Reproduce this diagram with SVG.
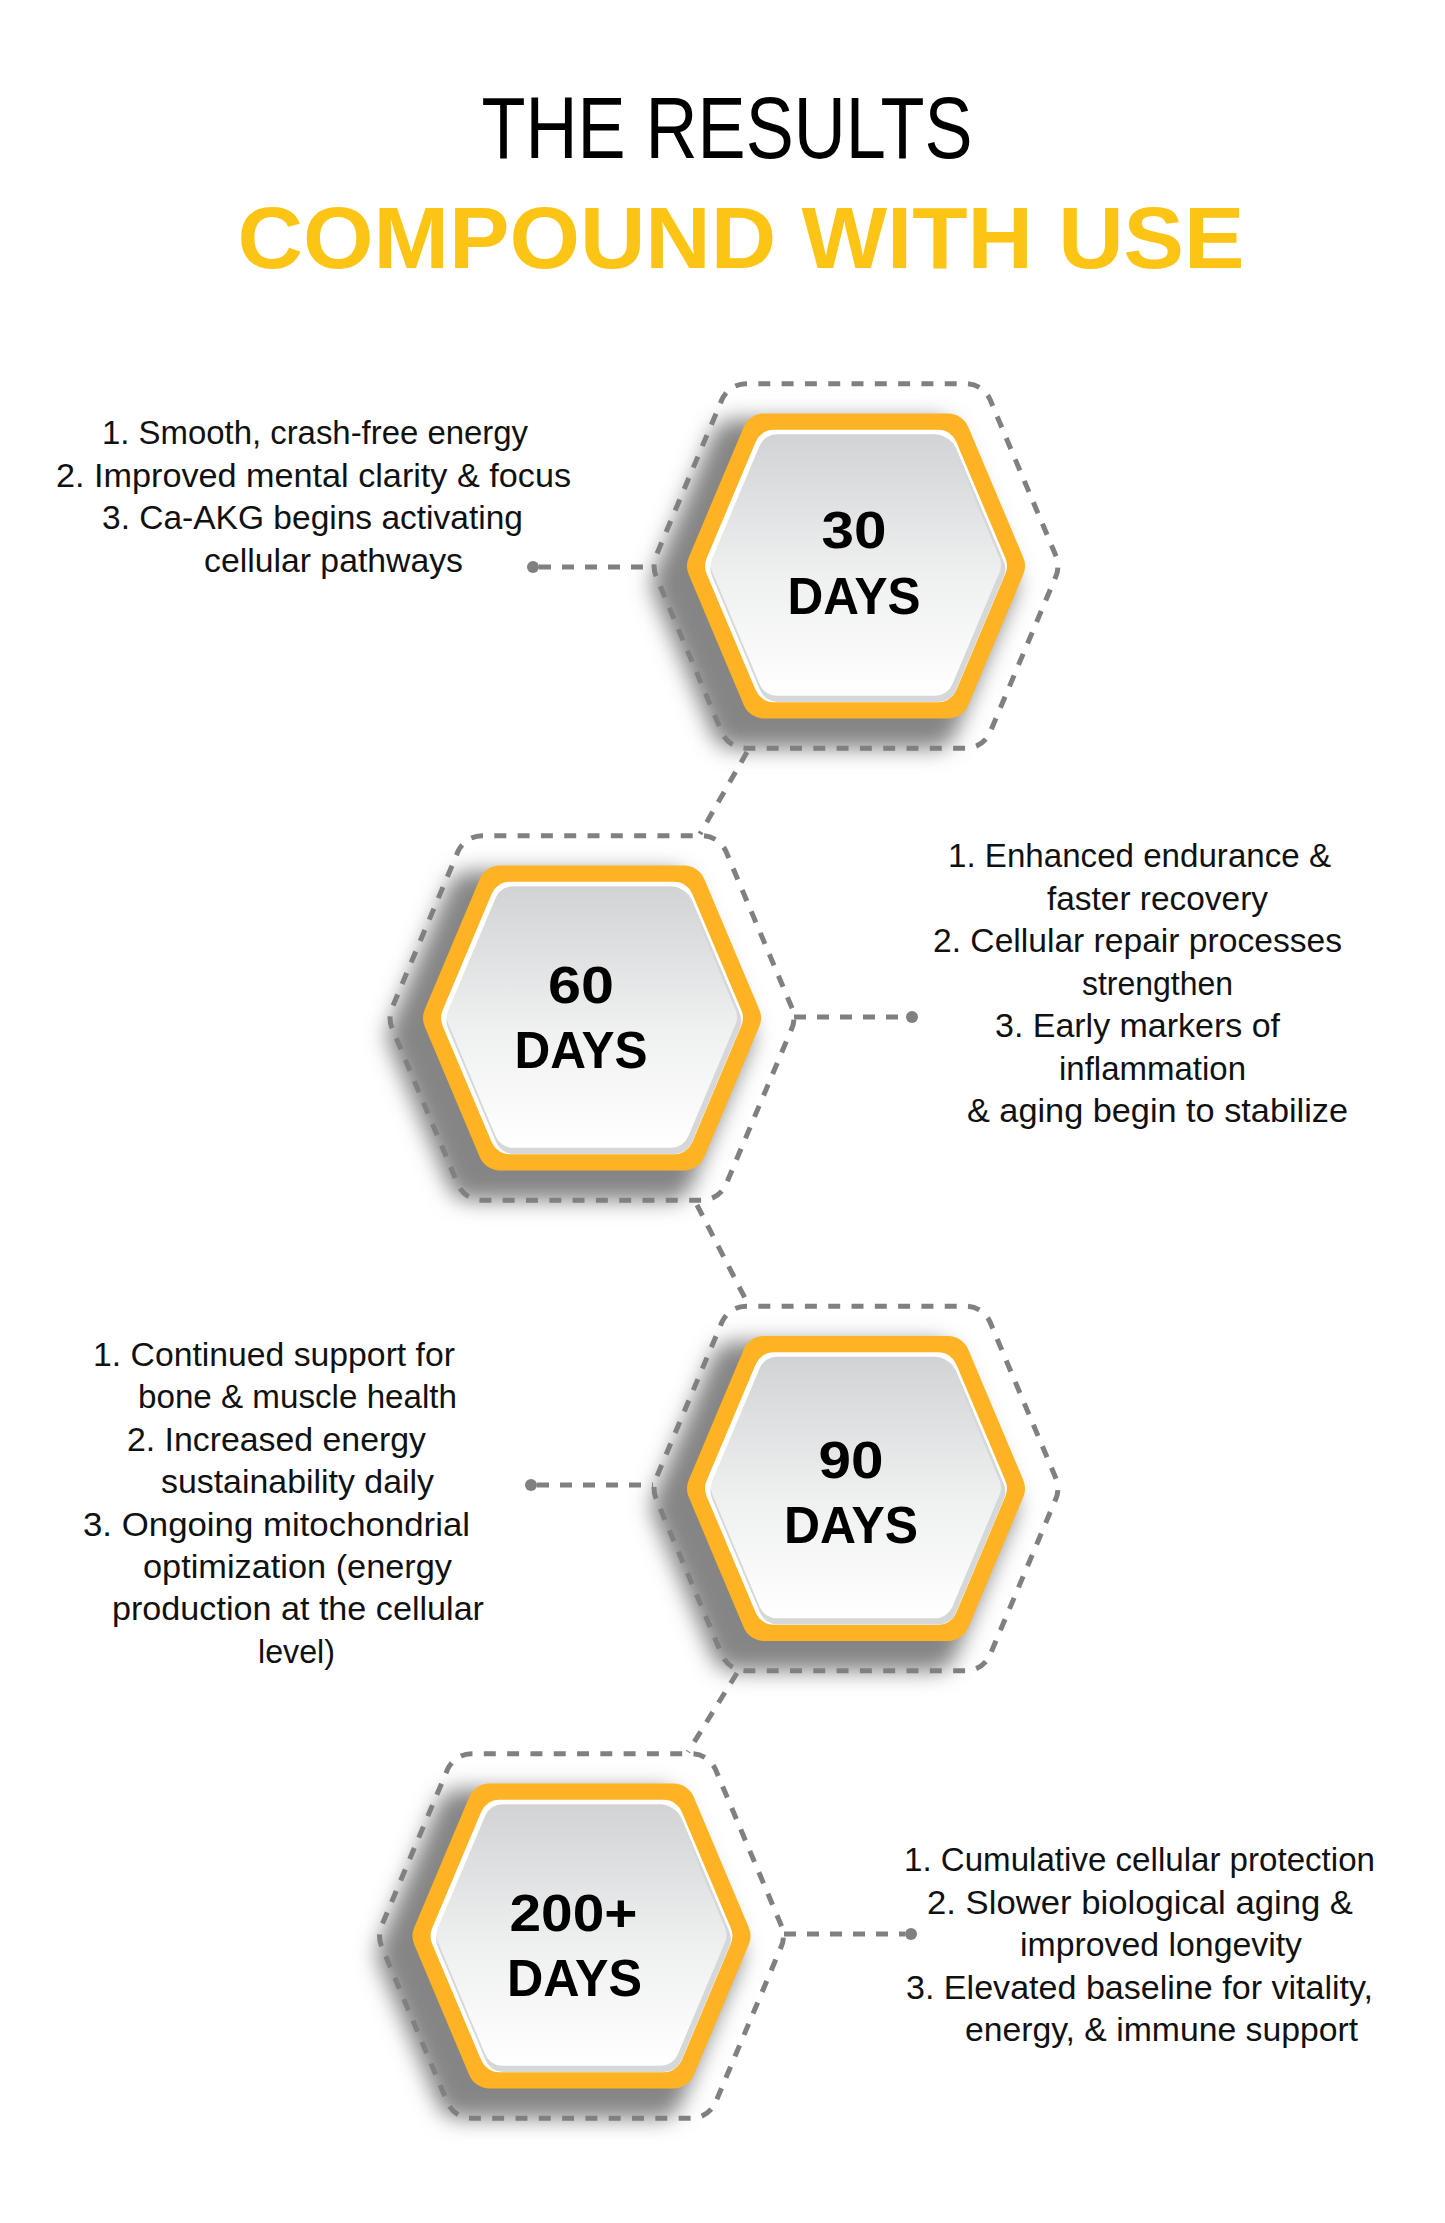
<svg xmlns="http://www.w3.org/2000/svg" xmlns:xlink="http://www.w3.org/1999/xlink" width="1445" height="2223" viewBox="0 0 1445 2223">
<style>
.t1{font-family:"Liberation Sans",Arial,sans-serif;font-size:87px;fill:#000;text-anchor:middle}
.t2{font-family:"Liberation Sans",Arial,sans-serif;font-weight:bold;font-size:88px;fill:#FCC516;text-anchor:middle}
.body{font-family:"Liberation Sans",Arial,sans-serif;font-size:34px;fill:#111;text-anchor:middle}
.num{font-family:"Liberation Sans",Arial,sans-serif;font-weight:bold;font-size:52px;fill:#000;text-anchor:middle}
.dash{fill:none;stroke:#808080;stroke-width:4.2;stroke-dasharray:10 9.5}
.orange{fill:#FDB323}
.white{fill:#FFFFFF}
.rim{fill:#D6D7D9}
.core{fill:url(#coreGrad)}
.shadow{fill:#858585;filter:url(#blur)}
.conn{fill:none;stroke:#808080;stroke-width:5;stroke-dasharray:12 11}
.dot{fill:#808080}
</style>
<defs>
<path id="hex" d="M -167.27,8.54 A22,22 0 0 1 -167.27,-8.54 L -112.27,-139.04 A22,22 0 0 1 -92,-152.5 L 92,-152.5 A22,22 0 0 1 112.27,-139.04 L 167.27,-8.54 A22,22 0 0 1 167.27,8.54 L 112.27,139.04 A22,22 0 0 1 92,152.5 L -92,152.5 A22,22 0 0 1 -112.27,139.04 Z"/>
<linearGradient id="coreGrad" x1="0" y1="0" x2="0" y2="1">
<stop offset="0" stop-color="#D2D3D5"/>
<stop offset="0.55" stop-color="#EFF0F0"/>
<stop offset="1" stop-color="#FFFFFF"/>
</linearGradient>
<filter id="blur" x="-30%" y="-30%" width="160%" height="160%">
<feGaussianBlur stdDeviation="10"/>
</filter>
</defs>
<rect x="0" y="0" width="1445" height="2223" fill="#FFFFFF"/>

<g id="title">
<text class="t1" x="727" y="158" textLength="491" lengthAdjust="spacingAndGlyphs">THE RESULTS</text>
<text class="t2" x="741" y="268" textLength="1007" lengthAdjust="spacingAndGlyphs">COMPOUND WITH USE</text>
</g>

<g id="connectors">
<line class="conn" x1="539" y1="567" x2="653" y2="567"/>
<circle class="dot" cx="533" cy="567" r="6"/>
<line class="conn" x1="794" y1="1017" x2="906" y2="1017"/>
<circle class="dot" cx="912" cy="1017" r="6"/>
<line class="conn" x1="537" y1="1485" x2="653" y2="1485"/>
<circle class="dot" cx="531" cy="1485" r="6"/>
<line class="conn" x1="784" y1="1934" x2="905" y2="1934"/>
<circle class="dot" cx="911" cy="1934" r="6"/>
<line class="conn" x1="747" y1="752" x2="700" y2="834"/>
<line class="conn" x1="697" y1="1205" x2="747" y2="1302"/>
<line class="conn" x1="737" y1="1673" x2="688" y2="1752"/>
</g>

<g id="node-30" transform="translate(856,566)">
<use xlink:href="#hex" class="shadow" transform="translate(-22,18) scale(1.08)"/>
<use xlink:href="#hex" class="dash" transform="scale(1.195)"/>
<use xlink:href="#hex" class="orange"/>
<use xlink:href="#hex" class="white" transform="scale(0.893)"/>
<use xlink:href="#hex" class="rim" transform="translate(2,3) scale(0.872)"/>
<use xlink:href="#hex" class="core" transform="translate(0,-1) scale(0.858)"/>
<text class="num" x="-2" y="-18" textLength="65" lengthAdjust="spacingAndGlyphs">30</text>
<text class="num" x="-2" y="48" textLength="133" lengthAdjust="spacingAndGlyphs">DAYS</text>
</g>

<g id="node-60" transform="translate(592,1018)">
<use xlink:href="#hex" class="shadow" transform="translate(-22,18) scale(1.08)"/>
<use xlink:href="#hex" class="dash" transform="scale(1.195)"/>
<use xlink:href="#hex" class="orange"/>
<use xlink:href="#hex" class="white" transform="scale(0.893)"/>
<use xlink:href="#hex" class="rim" transform="translate(2,3) scale(0.872)"/>
<use xlink:href="#hex" class="core" transform="translate(0,-1) scale(0.858)"/>
<text class="num" x="-11" y="-15" textLength="66" lengthAdjust="spacingAndGlyphs">60</text>
<text class="num" x="-11" y="50" textLength="133" lengthAdjust="spacingAndGlyphs">DAYS</text>
</g>

<g id="node-90" transform="translate(856,1488.5)">
<use xlink:href="#hex" class="shadow" transform="translate(-22,18) scale(1.08)"/>
<use xlink:href="#hex" class="dash" transform="scale(1.195)"/>
<use xlink:href="#hex" class="orange"/>
<use xlink:href="#hex" class="white" transform="scale(0.893)"/>
<use xlink:href="#hex" class="rim" transform="translate(2,3) scale(0.872)"/>
<use xlink:href="#hex" class="core" transform="translate(0,-1) scale(0.858)"/>
<text class="num" x="-5" y="-10.5" textLength="65" lengthAdjust="spacingAndGlyphs">90</text>
<text class="num" x="-5" y="54.5" textLength="134" lengthAdjust="spacingAndGlyphs">DAYS</text>
</g>

<g id="node-200" transform="translate(581.5,1936)">
<use xlink:href="#hex" class="shadow" transform="translate(-22,18) scale(1.08)"/>
<use xlink:href="#hex" class="dash" transform="scale(1.195)"/>
<use xlink:href="#hex" class="orange"/>
<use xlink:href="#hex" class="white" transform="scale(0.893)"/>
<use xlink:href="#hex" class="rim" transform="translate(2,3) scale(0.872)"/>
<use xlink:href="#hex" class="core" transform="translate(0,-1) scale(0.858)"/>
<text class="num" x="-8" y="-5" textLength="128" lengthAdjust="spacingAndGlyphs">200+</text>
<text class="num" x="-7" y="60" textLength="135" lengthAdjust="spacingAndGlyphs">DAYS</text>
</g>

<g id="text-30">
<text class="body" x="315" y="444" textLength="426" lengthAdjust="spacingAndGlyphs">1. Smooth, crash-free energy</text>
<text class="body" x="313.5" y="486.5" textLength="515" lengthAdjust="spacingAndGlyphs">2. Improved mental clarity &amp; focus</text>
<text class="body" x="312.5" y="529" textLength="421" lengthAdjust="spacingAndGlyphs">3. Ca-AKG begins activating</text>
<text class="body" x="333.5" y="571.5" textLength="259" lengthAdjust="spacingAndGlyphs">cellular pathways</text>
</g>

<g id="text-60">
<text class="body" x="1139.5" y="867" textLength="383" lengthAdjust="spacingAndGlyphs">1. Enhanced endurance &amp;</text>
<text class="body" x="1157.5" y="909.5" textLength="221" lengthAdjust="spacingAndGlyphs">faster recovery</text>
<text class="body" x="1137.5" y="952" textLength="409" lengthAdjust="spacingAndGlyphs">2. Cellular repair processes</text>
<text class="body" x="1157.5" y="994.5" textLength="151" lengthAdjust="spacingAndGlyphs">strengthen</text>
<text class="body" x="1137.5" y="1037" textLength="285" lengthAdjust="spacingAndGlyphs">3. Early markers of</text>
<text class="body" x="1152.5" y="1079.5" textLength="187" lengthAdjust="spacingAndGlyphs">inflammation</text>
<text class="body" x="1157.5" y="1122" textLength="381" lengthAdjust="spacingAndGlyphs">&amp; aging begin to stabilize</text>
</g>

<g id="text-90">
<text class="body" x="274" y="1366" textLength="362" lengthAdjust="spacingAndGlyphs">1. Continued support for</text>
<text class="body" x="297.5" y="1408.4" textLength="319" lengthAdjust="spacingAndGlyphs">bone &amp; muscle health</text>
<text class="body" x="276.5" y="1450.8" textLength="299" lengthAdjust="spacingAndGlyphs">2. Increased energy</text>
<text class="body" x="297.5" y="1493.2" textLength="273" lengthAdjust="spacingAndGlyphs">sustainability daily</text>
<text class="body" x="276.5" y="1535.6" textLength="387" lengthAdjust="spacingAndGlyphs">3. Ongoing mitochondrial</text>
<text class="body" x="297.5" y="1578" textLength="309" lengthAdjust="spacingAndGlyphs">optimization (energy</text>
<text class="body" x="298" y="1620.4" textLength="372" lengthAdjust="spacingAndGlyphs">production at the cellular</text>
<text class="body" x="296.5" y="1662.8" textLength="77" lengthAdjust="spacingAndGlyphs">level)</text>
</g>

<g id="text-200">
<text class="body" x="1139.5" y="1871" textLength="471" lengthAdjust="spacingAndGlyphs">1. Cumulative cellular protection</text>
<text class="body" x="1140" y="1913.5" textLength="426" lengthAdjust="spacingAndGlyphs">2. Slower biological aging &amp;</text>
<text class="body" x="1161" y="1956" textLength="282" lengthAdjust="spacingAndGlyphs">improved longevity</text>
<text class="body" x="1139.5" y="1998.5" textLength="467" lengthAdjust="spacingAndGlyphs">3. Elevated baseline for vitality,</text>
<text class="body" x="1161.5" y="2041" textLength="393" lengthAdjust="spacingAndGlyphs">energy, &amp; immune support</text>
</g>
</svg>
